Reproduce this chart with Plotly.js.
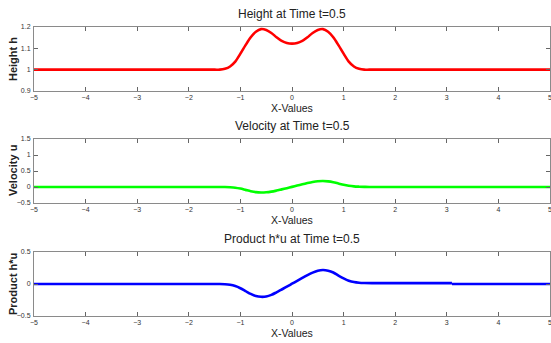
<!DOCTYPE html>
<html><head><meta charset="utf-8">
<script src="https://cdn.plot.ly/plotly-3.0.1.min.js"></script>
<style>html,body{margin:0;padding:0;background:#fff}#c{width:551px;height:343px}</style>
</head><body><div id="c"></div>
<script>
const xs = [-5, -1.5, -1.4, -1.3, -1.2, -1.1, -1.0, -0.9, -0.8, -0.7, -0.6, -0.5, -0.4, -0.3, -0.2, -0.1, 0,
            0.1, 0.2, 0.3, 0.4, 0.5, 0.6, 0.7, 0.8, 0.9, 1.0, 1.1, 1.2, 1.3, 1.4, 1.5, 5];
const heightH = [1, 1, 1, 1.004, 1.015, 1.038, 1.075, 1.115, 1.152, 1.178, 1.19, 1.186, 1.172, 1.152, 1.135, 1.125, 1.122,
                 1.125, 1.135, 1.152, 1.172, 1.186, 1.19, 1.178, 1.152, 1.115, 1.075, 1.038, 1.015, 1.004, 1, 1, 1];
const velocityU = [0, 0, 0, -0.002, -0.008, -0.022, -0.05, -0.09, -0.13, -0.16, -0.172, -0.166, -0.145, -0.112, -0.074, -0.036, 0.004,
                   0.045, 0.085, 0.122, 0.155, 0.178, 0.186, 0.176, 0.15, 0.11, 0.07, 0.04, 0.02, 0.01, 0.004, 0, 0];
const xsHU = [-5, -1.5, -1.4, -1.3, -1.2, -1.1, -1.0, -0.9, -0.8, -0.7, -0.6, -0.5, -0.4, -0.3, -0.2, -0.1, 0,
              0.1, 0.2, 0.3, 0.4, 0.5, 0.6, 0.7, 0.8, 0.9, 1.0, 1.1, 1.2, 1.3, 1.4, 1.6, 3.1];
const productHU = [0, 0, 0, -0.003, -0.012, -0.032, -0.066, -0.11, -0.155, -0.188, -0.2, -0.195, -0.17, -0.13, -0.086, -0.042, 0.004,
                   0.05, 0.096, 0.14, 0.178, 0.207, 0.218, 0.208, 0.18, 0.132, 0.088, 0.052, 0.03, 0.019, 0.015, 0.014, 0.014];
const xsHUTail = [3.1, 5];
const productHUTail = [0, 0];
const xTicks = [-5, -4, -3, -2, -1, 0, 1, 2, 3, 4, 5];
const titles = ['Height at Time t=0.5', 'Velocity at Time t=0.5', 'Product h*u at Time t=0.5'];
const yTitles = ['Height h', 'Velocity u', 'Product h*u'];

const H = 343;
const dom = (top, bot) => [1 - bot / H, 1 - top / H];
const boxes = [[27, 91], [139, 203], [252, 316]];
const font = 'Liberation Sans, Arial, sans-serif';

const traces = [
  {x: xs, y: heightH, xaxis: 'x', yaxis: 'y', line: {color: '#ff0000', width: 2.6, shape: 'spline', smoothing: 0.8}},
  {x: xs, y: velocityU, xaxis: 'x2', yaxis: 'y2', line: {color: '#00ff00', width: 2.6, shape: 'spline', smoothing: 0.8}},
  {x: xsHU, y: productHU, xaxis: 'x3', yaxis: 'y3', line: {color: '#0000ff', width: 2.6, shape: 'spline', smoothing: 0.8}},
  {x: xsHUTail, y: productHUTail, xaxis: 'x3', yaxis: 'y3', line: {color: '#0000ff', width: 2.6}}
].map(t => Object.assign({type: 'scatter', mode: 'lines', hoverinfo: 'skip'}, t));

const axBase = {showline: true, mirror: 'ticks', linecolor: '#8a8a8a', linewidth: 1, ticks: 'inside', ticklen: 4,
  tickcolor: '#666', showgrid: false, zeroline: false, tickfont: {family: font, size: 7, color: '#333'},
  fixedrange: true, ticklabeloverflow: 'allow'};

const layout = {
  width: 551, height: 343, showlegend: false, paper_bgcolor: '#fff', plot_bgcolor: '#fff',
  margin: {l: 34, r: 1, t: 0, b: 0},
  annotations: []
};
const yRanges = [[0.9, 1.2], [-0.5, 1.5], [-0.5, 0.5]];
const yTicks = [[0.9, 1, 1.1, 1.2], [-0.5, 0, 0.5, 1, 1.5], [-0.5, 0, 0.5]];
for (let i = 0; i < 3; i++) {
  const s = i === 0 ? '' : String(i + 1);
  layout['xaxis' + s] = Object.assign({}, axBase, {domain: [0, 1], anchor: 'y' + s, range: [-5, 5],
    tickvals: xTicks, ticklabelstandoff: 0});
  layout['yaxis' + s] = Object.assign({}, axBase, {domain: dom(boxes[i][0], boxes[i][1]), anchor: 'x' + s,
    range: yRanges[i], tickvals: yTicks[i], ticklabelstandoff: 1});
  layout.annotations.push({text: titles[i], xref: 'paper', yref: 'paper', x: 0.5, y: 1 - (boxes[i][0] - 13) / H,
    xanchor: 'center', yanchor: 'middle', showarrow: false, font: {family: font, size: 12, color: '#222'}});
  layout.annotations.push({text: 'X-Values', xref: 'paper', yref: 'paper', x: 0.5, y: 1 - (boxes[i][1] + 17) / H,
    xanchor: 'center', yanchor: 'middle', showarrow: false, font: {family: font, size: 10.5, color: '#222'}});
  layout.annotations.push({text: '<b>' + yTitles[i] + '</b>', xref: 'paper', yref: 'paper', x: -21 / 516, xanchor: 'center',
    y: 1 - (boxes[i][0] + boxes[i][1]) / 2 / H, yanchor: 'middle', textangle: -90, showarrow: false,
    font: {family: font, size: 11, color: '#222'}});
}
Plotly.newPlot('c', traces, layout, {displayModeBar: false, staticPlot: true});
</script></body></html>
